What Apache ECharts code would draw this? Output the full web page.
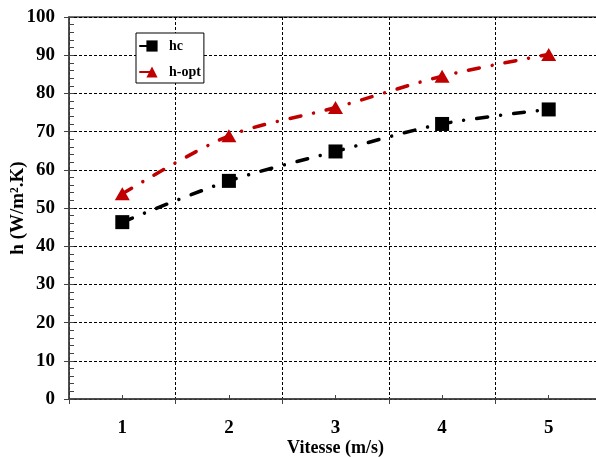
<!DOCTYPE html>
<html>
<head>
<meta charset="utf-8">
<script src="https://cdn.jsdelivr.net/npm/echarts@6/dist/echarts.min.js"></script>
<style>
  html, body { margin: 0; padding: 0; background: #fff; }
  #myChart { width: 596px; height: 457px; }
</style>
</head>
<body>
<div id="myChart"></div>
<script>
// valeurs
var vitesse = ['1', '2', '3', '4', '5'];
var hc = [46.3, 57.1, 64.8, 72.0, 75.8];
var hOpt = [53.7, 68.9, 76.3, 84.5, 90.2];

var font = 'Liberation Serif';
var red = '#c00000';
var dashDot = [11, 13, 0.01, 13];

var myChart = echarts.init(document.getElementById('myChart'));
var option = {
  animation: false,
  grid: {
    left: 69, top: 17, right: -6, bottom: 58,
    outerBoundsMode: 'none',
    containLabel: false,
    show: true, borderColor: '#444', borderWidth: 1.5
  },
  legend: {
    orient: 'vertical',
    left: 136, top: 33,
    padding: [6, 3, 4, 3],
    itemGap: 12,
    itemWidth: 24, itemHeight: 14,
    backgroundColor: '#fff',
    borderColor: '#000', borderWidth: 1,
    textStyle: { fontFamily: font, fontWeight: 'bold', fontSize: 14, color: '#000' },
    data: ['hc', 'h-opt']
  },
  xAxis: [
    {
      type: 'category',
      data: vitesse,
      boundaryGap: true,
      name: 'Vitesse (m/s)',
      nameLocation: 'middle',
      nameGap: 40,
      nameMoveOverlap: false,
      nameTextStyle: { fontFamily: font, fontWeight: 'bold', fontSize: 18, color: '#000' },
      axisLine: { lineStyle: { color: '#444', width: 1.5 } },
      axisTick: { show: true, length: 5, lineStyle: { color: '#444' } },
      axisLabel: { margin: 20, fontFamily: font, fontWeight: 'bold', fontSize: 19, color: '#000' },
      splitLine: { show: true, lineStyle: { color: '#000', type: [3, 2], width: 1 } }
    },
    {
      // petites graduations au centre des categories
      type: 'category',
      data: vitesse,
      position: 'bottom',
      axisLine: { show: false },
      axisTick: { show: true, inside: true, alignWithLabel: true, length: 4, lineStyle: { color: '#444' } },
      axisLabel: { show: false },
      splitLine: { show: false }
    }
  ],
  yAxis: [
    {
      type: 'value',
      min: 0, max: 100, interval: 10,
      name: 'h (W/m².K)',
      nameLocation: 'middle',
      nameGap: 41,
      nameMoveOverlap: false,
      nameTextStyle: { fontFamily: font, fontWeight: 'bold', fontSize: 19, color: '#000' },
      axisLine: { show: true, lineStyle: { color: '#444', width: 1.5 } },
      axisTick: { show: true, length: 5, lineStyle: { color: '#444' } },
      axisLabel: { margin: 14, fontFamily: font, fontWeight: 'bold', fontSize: 19, color: '#000' },
      splitLine: { show: true, lineStyle: { color: '#000', type: [3, 2], width: 1 } }
    },
    {
      // graduations secondaires vers l'interieur
      type: 'value',
      min: 0, max: 100, interval: 2,
      position: 'left',
      axisLine: { show: false },
      axisTick: { show: true, inside: true, length: 5, lineStyle: { color: '#444' } },
      axisLabel: { show: false },
      splitLine: { show: false }
    }
  ],
  series: [
    {
      name: 'hc',
      type: 'line',
      data: hc,
      smooth: 0.3,
      symbol: 'rect',
      symbolSize: 14,
      itemStyle: { color: '#000' },
      lineStyle: { color: '#000', width: 3.5, type: dashDot, cap: 'round' },
      z: 3
    },
    {
      name: 'h-opt',
      type: 'line',
      data: hOpt,
      smooth: 0.3,
      symbol: 'triangle',
      symbolSize: [15, 13],
      itemStyle: { color: red },
      lineStyle: { color: red, width: 3.5, type: dashDot, cap: 'round' },
      z: 3
    }
  ]
};
myChart.setOption(option);
</script>
</body>
</html>
